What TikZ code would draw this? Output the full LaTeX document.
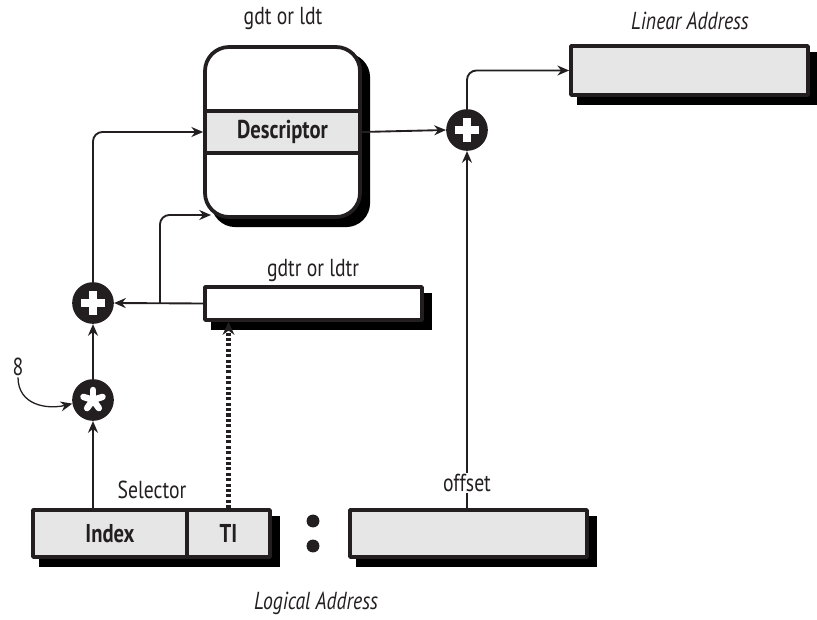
\documentclass[tikz,border=0pt]{standalone}
\usepackage{fontspec}
\setmainfont{PT Sans}[FakeStretch=0.8]
\usetikzlibrary{arrows.meta,backgrounds}
\definecolor{fieldgray}{HTML}{E6E6E6}
\definecolor{inkdark}{HTML}{231F20}
\definecolor{shadowgray}{HTML}{9A9A9A}
\begin{document}
\begin{tikzpicture}[x=0.03cm, y=-0.03cm, font=\fontsize{21}{24}\selectfont, line join=round,
    >={Stealth[length=10pt,width=8.5pt]}, color=inkdark,
    regbox/.style={draw, line width=3.2pt, fill=fieldgray, minimum height=1.41cm, inner sep=0pt},
    opnode/.style={circle, fill=inkdark, minimum size=1.25cm, inner sep=0pt},
    lbl/.style={inner sep=1pt},
    field/.style={font=\fontsize{22}{24}\selectfont\bfseries},
    conn/.style={->, line width=1.6pt}]

	\useasboundingbox (0,0) rectangle (817,619);

	% descriptor table
	\node[regbox, fill=white, rounded corners=0.72cm, minimum width=4.65cm, minimum height=5.1cm] (gdt) at (282.5,132) {};
	\node[draw, line width=3.2pt, fill=fieldgray, minimum width=4.65cm, minimum height=1.26cm, inner sep=0pt, field] (desc) at (282.5,132) {Descriptor};
	\node[lbl] (gdtlbl) at (283,18) {gdt or ldt};

	% linear address
	\node[regbox, minimum width=7.11cm, minimum height=1.47cm] (lin) at (689.5,70.5) {};
	\node[lbl] (linlbl) at (690,21) {\itshape Linear Address};

	% gdtr / ldtr register
	\node[regbox, fill=white, minimum width=6.51cm, minimum height=0.99cm] (gdtr) at (313.5,303.5) {};
	\node[lbl] (gdtrlbl) at (313,270) {gdtr or ldtr};

	% logical address
	\node[regbox, minimum width=4.62cm, field] (idx) at (110,533.5) {Index};
	\node[regbox, minimum width=2.49cm, field] (ti) at (228.5,533.5) {TI};
	\node[regbox, minimum width=7.11cm] (off) at (468.5,533.5) {};
	\fill (313,521) circle (5.5pt) (313,546) circle (5.5pt);
	\node[lbl] (sellbl) at (152,490) {Selector};
	\node[lbl] (loglbl) at (316,603) {\itshape Logical Address};

	% shadows behind the boxes
	\begin{scope}[on background layer, shadowgray]
		\fill[rounded corners=0.72cm] ([shift={(7pt,-7pt)}]gdt.south west) rectangle ([shift={(7pt,-7pt)}]gdt.north east);
		\foreach \b in {lin,gdtr,off}
			\fill ([shift={(7pt,-7pt)}]\b.south west) rectangle ([shift={(7pt,-7pt)}]\b.north east);
		\fill ([shift={(7pt,-7pt)}]idx.south west) rectangle ([shift={(7pt,-7pt)}]ti.north east);
	\end{scope}

	% adders and multiplier
	\node[opnode] (plusR) at (467,130) {};
	\node[opnode] (plusL) at (93,303) {};
	\node[opnode] (star) at (93,400) {};
	\foreach \c in {plusR,plusL} {
		\draw[white, line width=6.5pt] (\c.center) ++(-12,0) -- ++(24,0);
		\draw[white, line width=6.5pt] (\c.center) ++(0,-12) -- ++(0,24);
	}
	\foreach \a in {-90,-18,54,126,198}
		\draw[white, line width=5.5pt, line cap=round] (star.center) -- ++(\a:10);
	\node[lbl] (eight) at (18,367) {8};

	% connectors
	\draw[conn] (desc.east) -- (plusR.west);
	\draw[conn, rounded corners=8pt] (plusR.north) |- (lin.west);
	\draw[conn] (off.north -| plusR.south) -- (plusR.south);
	\node[lbl, fill=white] (offlbl) at (467,483) {offset};

	\coordinate (split) at (160,303);
	\coordinate (gdtin) at (211,215);
	\draw[conn] (gdtr.west) -- (plusL.east);
	\draw[conn, rounded corners=8pt] (split) |- (gdtin);
	\draw[conn, rounded corners=8pt] (plusL.north) |- (desc.west);
	\draw[conn] (star.north) -- (plusL.south);
	\draw[conn] (star.south |- idx.north) -- (star.south);
	\draw[->, line width=1.1pt] (eight.south) .. controls +(0,28) and +(-25,6) .. (star.190);
	\draw[-{Stealth[length=11pt,width=10pt]}, line width=4pt, dash pattern=on 2.6pt off 2pt] (ti.north) -- (ti.north |- gdtr.south);

\end{tikzpicture}
\end{document}
